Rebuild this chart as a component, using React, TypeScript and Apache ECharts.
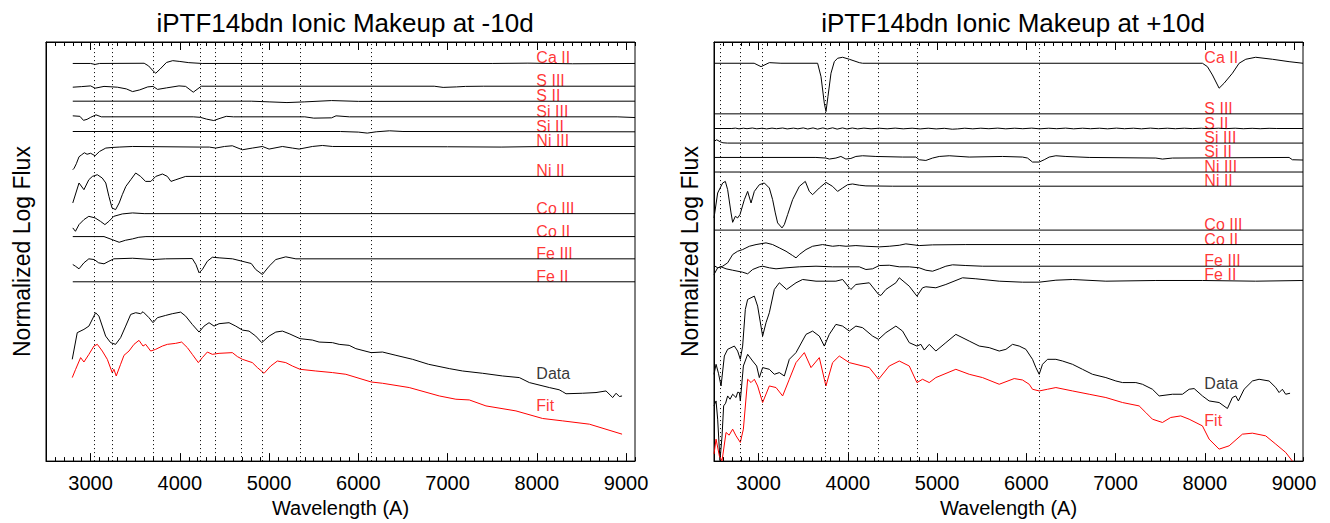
import React, { useEffect, useRef } from 'react';
import * as echarts from 'echarts';

// ---------- axis ticks ----------
const MAJOR_TICKS = [3000, 4000, 5000, 6000, 7000, 8000, 9000];
const MINOR_TICKS: number[] = [];
for (let w = 2600; w <= 9100; w += 100) if (w % 1000 !== 0) MINOR_TICKS.push(w);

// ---------- dotted line wavelengths ----------
const L_VLINES = [3045, 3242, 3699, 4234, 4394, 4689, 4918, 5347, 6143];
const R_VLINES = [2571, 2792, 3041, 3750, 4001, 4344, 4774, 6141];

// ---------- label positions (name, offset flux) ----------
const L_LABELS: [string, number][] = [
  ['Ca II', 398.5], ['S III', 375.7], ['S II', 360.7], ['Si III', 345], ['Si II', 330.3],
  ['Ni III', 315.3], ['Ni II', 285.3], ['Co III', 248], ['Co II', 225], ['Fe III', 202.7], ['Fe II', 179.7],
];
const L_DATA_LABEL = 82;
const L_FIT_LABEL = 50.3;
const R_LABELS: [string, number][] = [
  ['Ca II', 398.7], ['S III', 348], ['S II', 333.3], ['Si III', 318.7], ['Si II', 304.3],
  ['Ni III', 289.7], ['Ni II', 275.5], ['Co III', 231.5], ['Co II', 217], ['Fe III', 195.3], ['Fe II', 181.3],
];
const R_DATA_LABEL = 72;
const R_FIT_LABEL = 35.3;
const LABEL_WAVE = 8000;

// ---------- LEFT panel (-10d) ----------
const L_CA2 = [[2800,398.5],[3000,398.5],[3050,397.5],[3100,398.5],[3600,398.7],[3650,396],[3700,391],[3730,388.7],[3780,393],[3850,399.5],[3920,401.3],[4000,400.5],[4100,399.3],[4250,398.5],[7500,398.5],[7900,398.8],[8400,398.2],[9100,398.5]];
const L_S3 = [[2800,374.7],[2900,375.3],[3000,376],[3050,373.7],[3150,375.5],[3300,374.7],[3400,373],[3470,370.3],[3550,372],[3640,375],[3700,375.5],[3750,372.5],[3850,374],[3990,376],[4065,375.5],[4150,369.7],[4240,375.7],[6850,375.7],[6950,374.5],[7100,375],[7200,375.5],[7400,375.7],[9100,375.7]];
const L_S2 = [[2800,360.7],[4800,360.7],[5000,360],[5200,359.3],[5400,360],[5700,361.3],[6000,360.5],[9100,360.7]];
const L_SI3 = [[2800,346],[2880,345.5],[2920,341.5],[2960,342.5],[3000,344.5],[3060,347],[3120,345],[4150,345],[4230,344.5],[4300,342.7],[4380,341.3],[4450,343.5],[4520,345.5],[4600,345],[5400,345],[5500,343.7],[5700,344],[5750,346],[5900,345],[8900,345],[9100,344.3]];
const L_SI2 = [[2800,330.3],[5800,330.3],[6000,329.7],[6100,328.7],[6200,330],[6350,331],[6500,330.3],[9100,330]];
const L_NI3 = [[2800,292],[2815,293.5],[2840,298],[2870,305],[2900,307],[2930,309],[2960,307.5],[3000,308.5],[3050,306],[3100,310.3],[3170,313.7],[3240,314.3],[3320,314.7],[3470,315.3],[4215,314.7],[4330,314.7],[4402,313.7],[4500,315.3],[4588,316],[4700,312],[4812,313.7],[4925,315.3],[5000,312.7],[5149,315.3],[5261,313.7],[5336,312.7],[5485,315.3],[5597,316.3],[5710,315.3],[7000,315],[7600,314.7],[8100,315.3],[9100,315.3]];
const L_NI2 = [[2800,258.7],[2870,278.7],[2925,272],[2980,282],[3020,285.3],[3075,287],[3130,283.7],[3170,278.7],[3205,265.3],[3240,253.7],[3280,252],[3320,258.7],[3355,267],[3395,275.3],[3450,282],[3505,288.7],[3560,285.3],[3615,280.3],[3675,280.3],[3730,285.3],[3805,287.7],[3860,285.3],[3900,280.3],[3955,282],[4065,285.3],[9100,285.3]];
const L_CO3 = [[2800,233.7],[2830,230.3],[2870,237],[2925,242],[2980,245.3],[3050,243.7],[3110,240.3],[3160,237],[3205,240.3],[3260,245.3],[3355,247.7],[3470,248.7],[3600,248],[9100,248]];
const L_CO2 = [[2800,225],[3150,225],[3240,222],[3320,219.3],[3390,221.3],[3470,222.7],[3540,224.3],[3620,225],[9100,225]];
const L_FE3 = [[2800,197],[2830,195.3],[2870,192.7],[2925,198.7],[2980,202.7],[3040,202],[3090,198.7],[3150,197.7],[3205,200.3],[3260,202.7],[3470,203.3],[3700,202],[3840,202.7],[4139,203],[4180,197],[4215,188.7],[4252,192],[4308,200.3],[4364,204.3],[4440,203.7],[4590,202.7],[4800,198],[4850,192],[4925,187],[5000,195.3],[5075,202],[5187,204.7],[5300,202.7],[9100,202.7]];
const L_FE2 = [[2800,179.7],[9100,179.7]];
const L_DATA = [[2794,102],[2850,128.7],[2925,132],[2981,135.3],[3056,148.7],[3093,145.3],[3168,125.3],[3224,118.7],[3280,117],[3336,123.7],[3393,135.3],[3449,147],[3505,148.7],[3561,147.7],[3587,149.7],[3654,143.7],[3699,138.7],[3748,143.7],[3841,146],[3915,147.7],[4009,149.3],[4065,145.3],[4139,137],[4215,129.3],[4271,135.3],[4327,138.7],[4383,135.3],[4439,137.7],[4551,138.7],[4626,135.3],[4701,131.3],[4775,130.3],[4850,125.3],[4918,118.7],[5000,125.3],[5075,129.3],[5149,130.3],[5224,127.7],[5347,122.7],[5485,121.3],[5560,119.3],[5710,118.7],[5785,117],[5897,116],[5972,112.7],[6144,108.7],[6271,109.3],[6421,106],[6608,102],[6787,97],[7019,92.7],[7168,90.3],[7393,88],[7617,85.3],[7804,83.7],[7916,78.7],[8140,73.7],[8250,71.5],[8290,69.5],[8327,67.5],[8514,68],[8663,68.7],[8775,70.3],[8850,63.7],[8888,68],[8925,64.7],[8955,65.3]];
const L_FIT = [[2794,83.7],[2832,92],[2888,103.7],[2925,99.3],[2981,107],[3037,115.3],[3075,117],[3131,110.3],[3187,102],[3242,88.7],[3261,92],[3287,85.3],[3336,97],[3374,106],[3430,110.3],[3486,117],[3542,121],[3587,115.3],[3617,117],[3673,110.3],[3729,112],[3804,115.3],[3860,117],[3953,118],[4020,119.3],[4084,113.7],[4139,107],[4207,98.7],[4252,103.7],[4308,109.3],[4364,107],[4439,108],[4588,108.7],[4645,104.7],[4701,102],[4812,98.7],[4869,93.7],[4944,88],[5018,95.3],[5093,100.3],[5187,98.7],[5261,95.3],[5347,92],[5523,90.3],[5710,88.7],[5860,87],[6144,79.3],[6271,78],[6570,73.7],[6907,65.3],[7093,62],[7243,61.3],[7430,55.3],[7766,50.3],[8065,42.7],[8290,40.3],[8589,37],[8955,27]];

// ---------- RIGHT panel (+10d) ----------
const R_CA2 = [[2500,398.7],[2950,398.7],[3027,395.3],[3120,399.3],[3250,398.7],[3661,398.7],[3699,385.3],[3736,358.7],[3755,350.3],[3777,365.3],[3811,388.7],[3848,400.3],[3885,403.7],[3941,404.7],[4016,402.7],[4128,399.3],[4165,398.7],[7973,398.7],[8029,395.3],[8085,387],[8160,373.7],[8216,378.7],[8309,388.7],[8384,398.7],[8459,402.7],[8570,404.7],[8757,402.7],[8944,400.3],[9100,398.7]];
const R_S3 = [[2500,348],[9100,348]];
const R_S2 = [[2500,333.3],[2700,333.3],[2740,333.7],[2780,333.0],[2830,333.6],[2870,333.1],[2930,333.8],[2980,333.0],[3040,333.6],[3090,332.9],[3150,333.7],[3200,333.1],[3270,333.8],[3320,332.9],[3390,333.7],[3440,333.0],[3500,333.9],[3550,332.8],[3610,333.9],[3660,332.7],[3720,333.9],[3770,332.8],[3830,334.0],[3880,332.7],[3940,333.9],[3990,332.8],[4050,333.8],[4110,332.9],[4180,333.7],[4260,333.0],[4350,333.6],[4440,333.0],[4530,333.7],[4620,333.0],[4720,333.6],[4810,332.9],[4900,333.6],[4990,332.9],[5080,333.5],[5170,332.6],[5230,332.9],[5310,333.6],[5400,333.0],[5490,333.6],[5580,333.1],[5680,333.7],[5770,333.0],[5870,333.6],[5960,333.1],[6060,333.7],[6150,333.0],[6250,333.6],[6340,333.1],[6440,333.7],[6530,333.0],[6630,333.6],[6720,333.1],[6820,333.6],[6910,333.0],[7010,333.7],[7100,333.1],[7200,333.6],[7290,333.0],[7390,333.7],[7480,333.1],[7580,333.6],[7670,333.1],[7770,333.6],[7860,333.2],[7960,333.6],[8050,333.1],[8150,333.6],[8240,333.2],[8340,333.6],[8430,333.1],[8530,333.5],[8620,333.1],[8720,333.5],[8800,333.3],[9100,333.3]];
const R_SI3 = [[2500,320.3],[2530,322],[2570,320],[2600,319],[2650,318.7],[9100,318.7]];
const R_SI2 = [[2500,304.3],[3642,304.3],[3754,303.7],[3792,302.7],[3866,303.7],[3922,305.3],[3978,302.7],[4034,303.3],[4090,305.3],[4165,306],[4314,305.3],[4613,304.7],[4762,304.7],[4800,302],[4874,301.3],[4949,303.7],[5024,305.3],[5136,306],[5360,304.7],[5733,305.3],[5957,304.7],[6013,303.7],[6069,299.7],[6144,299.7],[6200,302],[6256,304.7],[6331,306],[6443,305.3],[6704,304.3],[7451,303.7],[7525,302.7],[7637,303.7],[8944,304.3],[8981,302],[9100,301.7]];
const R_NI3 = [[2500,289.7],[9100,289.7]];
const R_NI2 = [[2500,243.7],[2541,268.7],[2597,278.7],[2627,280.3],[2653,272],[2691,248.7],[2709,239.3],[2739,245.3],[2765,243.7],[2791,247],[2840,262],[2877,270.3],[2915,258.7],[2952,270.3],[3008,277],[3064,278.7],[3120,273.7],[3157,262],[3187,248.7],[3213,238.7],[3262,233.7],[3288,237],[3325,247],[3381,262],[3456,275.3],[3523,280.3],[3568,270.3],[3605,267],[3680,273.7],[3755,279.3],[3829,275.3],[3885,270.3],[3941,273.7],[3997,277],[4053,277.7],[4128,276.5],[4202,275.8],[4500,275.5],[9100,275.5]];
const R_CO3 = [[2500,231.5],[9100,231.5]];
const R_CO2 = [[2500,187],[2541,193.7],[2597,195.3],[2653,198.7],[2709,207],[2765,210.3],[2821,212],[2896,215.3],[2971,217],[3083,218.7],[3157,217],[3232,213.7],[3307,210.3],[3381,206],[3419,203.7],[3456,207],[3531,212],[3605,215.3],[3717,217],[3829,215.3],[3904,216],[3979,215.3],[4090,216],[4202,215.3],[4352,214.7],[4464,215.3],[4576,216.3],[4650,217.7],[4800,216],[4949,216.7],[5322,217],[9100,217]];
const R_FE3 = [[2500,196],[2541,193.7],[2579,194.7],[2635,192.7],[2709,191.3],[2821,189.3],[2877,187.7],[2933,192],[3008,194.7],[3045,195.3],[3120,193.7],[3195,192.7],[3307,193.7],[3456,194.7],[3643,195.3],[3829,194.7],[3979,194.7],[4128,194.7],[4202,192],[4277,192.7],[4352,196],[4464,196.3],[4576,194.7],[4688,194.7],[4800,193.7],[4874,191.3],[4949,190.3],[5024,192.7],[5098,195.3],[5173,196.7],[5322,196],[5509,195.3],[9100,195.3]];
const R_FE2 = [[2500,87],[2523,97],[2550,88],[2579,75.3],[2616,105.3],[2653,112],[2728,115.3],[2765,110.3],[2795,102],[2821,115.3],[2851,152],[2877,162],[2915,163.7],[2952,165.3],[2989,155.3],[3045,125.3],[3083,138.7],[3120,148.7],[3176,172],[3232,178.7],[3314,172],[3419,178.7],[3493,182],[3643,180.3],[3866,180.3],[3941,182],[4016,173.7],[4034,172],[4090,177],[4240,178.7],[4344,167],[4370,166],[4426,172],[4538,178.7],[4576,183.7],[4688,175.3],[4774,165.3],[4837,173.7],[4874,174.7],[4986,173.7],[5098,177],[5285,183.7],[5434,182.7],[5696,180.3],[5957,179.3],[6144,179.3],[6331,181.3],[6517,182],[6891,180.3],[7451,181],[7973,181],[8570,180.3],[9100,181]];
const R_DATA = [[2500,55.3],[2523,60.3],[2541,42],[2567,0.5],[2590,25],[2608,55.3],[2630,58],[2653,65.3],[2680,62],[2709,67],[2747,63.7],[2765,69],[2784,68.7],[2795,60.3],[2829,95.3],[2877,107],[2933,100.3],[2978,95.3],[3008,83.7],[3045,93.7],[3120,92],[3176,87],[3232,88.7],[3288,85.3],[3344,102],[3419,108.7],[3531,127],[3605,130.3],[3680,125.3],[3736,115.3],[3792,127],[3866,137],[3941,135.3],[4016,130.3],[4090,135.3],[4165,133.7],[4277,125.3],[4344,122],[4426,128.7],[4538,135.3],[4613,130.3],[4688,118.7],[4774,115.3],[4818,117],[4856,111.3],[4912,117],[4986,110.3],[5098,118.7],[5210,127],[5360,120.3],[5472,115.3],[5584,113.7],[5696,110.3],[5771,112],[5845,117],[5920,115.3],[5995,112],[6069,102],[6107,93.7],[6144,87],[6181,97],[6237,102],[6331,102],[6405,100.3],[6517,97],[6629,92],[6741,87],[6891,83.7],[7003,80.3],[7077,78.7],[7227,78.7],[7301,77],[7413,72],[7488,65.3],[7637,67],[7749,67],[7824,72],[7880,72.7],[7973,65.3],[8048,60.3],[8160,58.7],[8253,52.7],[8309,63.7],[8346,65.3],[8376,60.3],[8440,72],[8533,80.3],[8608,82],[8720,80.3],[8795,73.7],[8832,68.7],[8869,72],[8906,67],[8955,68]];
const R_FIT = [[2500,7],[2523,22],[2560,5.3],[2590,0.3],[2635,28.7],[2670,26],[2709,32],[2747,25.3],[2795,18.7],[2829,32],[2877,82],[2915,78.7],[2952,82],[2989,75.3],[3045,58.7],[3120,75.3],[3195,73.7],[3269,65.3],[3344,82],[3419,98.7],[3512,108.7],[3587,93.7],[3680,103.7],[3754,75.3],[3829,98.7],[3904,105.3],[4016,98.7],[4240,93.7],[4344,82],[4464,95.3],[4576,100.3],[4688,95.3],[4774,78.7],[4837,82],[4912,78.7],[4986,83.7],[5210,92],[5360,87],[5509,83.7],[5696,77],[5864,82.7],[5957,81.3],[6032,77],[6069,72],[6144,70.3],[6237,72],[6331,73.7],[6517,70.3],[6704,67],[6891,63.7],[7077,58.7],[7264,55.3],[7338,48.7],[7413,42],[7525,38.7],[7618,43.7],[7730,45.3],[7824,42],[7973,35.3],[8048,22],[8160,12],[8272,15.3],[8421,27],[8533,28],[8682,25.3],[8795,17],[8906,8.7],[8981,0]];

const L_COMPONENTS = [L_CA2, L_S3, L_S2, L_SI3, L_SI2, L_NI3, L_NI2, L_CO3, L_CO2, L_FE3, L_FE2];
const R_COMPONENTS = [R_CA2, R_S3, R_S2, R_SI3, R_SI2, R_NI3, R_NI2, R_CO3, R_CO2, R_FE3, R_FE2];

const TITLES = ['iPTF14bdn Ionic Makeup at -10d', 'iPTF14bdn Ionic Makeup at +10d'];
const FONT = "'Liberation Sans', Arial, sans-serif";
const RED = '#ff0000';

function buildOption() {
  const grids = [
    { left: 46, top: 42, width: 589, height: 420 },
    { left: 714, top: 42, width: 589, height: 420 },
  ].map((g) => ({ ...g, show: true, borderColor: '#000', borderWidth: 1, backgroundColor: 'transparent' }));

  const xAxis: any[] = [];
  const yAxis: any[] = [];
  const series: any[] = [];
  const panels = [
    { comps: L_COMPONENTS, data: L_DATA, fit: L_FIT, vlines: L_VLINES, labels: L_LABELS, dl: L_DATA_LABEL, fl: L_FIT_LABEL },
    { comps: R_COMPONENTS, data: R_DATA, fit: R_FIT, vlines: R_VLINES, labels: R_LABELS, dl: R_DATA_LABEL, fl: R_FIT_LABEL },
  ];

  panels.forEach((p, i) => {
    const base = { gridIndex: i, type: 'value', min: 2500, max: 9100, splitLine: { show: false } };
    xAxis.push({
      ...base, position: 'bottom',
      axisLine: { show: true, onZero: false, lineStyle: { color: '#000', width: 1 } },
      axisTick: { show: true, inside: true, length: 8, customValues: MAJOR_TICKS, lineStyle: { color: '#000' } },
      axisLabel: { show: true, customValues: MAJOR_TICKS, color: '#000', fontSize: 20, fontFamily: FONT, margin: 12, formatter: (v: number) => String(v) },
      name: 'Wavelength (A)', nameLocation: 'middle', nameGap: 36,
      nameTextStyle: { color: '#000', fontSize: 20, fontFamily: FONT },
    });
    xAxis.push({
      ...base, position: 'bottom',
      axisLine: { show: false },
      axisTick: { show: true, inside: true, length: 4, customValues: MINOR_TICKS, lineStyle: { color: '#000' } },
      axisLabel: { show: false },
    });
    xAxis.push({
      ...base, position: 'top',
      axisLine: { show: true, onZero: false, lineStyle: { color: '#000' } },
      axisTick: { show: true, inside: true, length: 8, customValues: MAJOR_TICKS, lineStyle: { color: '#000' } },
      axisLabel: { show: false },
    });
    xAxis.push({
      ...base, position: 'top',
      axisLine: { show: false },
      axisTick: { show: true, inside: true, length: 4, customValues: MINOR_TICKS, lineStyle: { color: '#000' } },
      axisLabel: { show: false },
    });
    yAxis.push({
      gridIndex: i, type: 'value', min: 0, max: 420,
      axisLine: { show: true, onZero: false, lineStyle: { color: '#000' } },
      axisTick: { show: false }, axisLabel: { show: false }, splitLine: { show: false },
      name: 'Normalized Log Flux', nameLocation: 'middle', nameGap: 13, nameRotate: 90,
      nameTextStyle: { color: '#000', fontSize: 23, fontFamily: FONT },
    });

    const xi = i * 4;
    const mkLine = (data: number[][], color: string, extra: any = {}) => ({
      type: 'line', xAxisIndex: xi, yAxisIndex: i, data, showSymbol: false, symbol: 'none',
      silent: true, lineStyle: { color, width: 1 }, emphasis: { disabled: true }, ...extra,
    });
    p.comps.forEach((c, k) => {
      const extra = k === 0 ? {
        markLine: {
          silent: true, symbol: ['none', 'none'], label: { show: false },
          lineStyle: { type: [1, 3], color: '#000', width: 1 },
          data: p.vlines.map((w) => ({ xAxis: w })),
        },
      } : {};
      series.push(mkLine(c, '#000', extra));
    });
    series.push(mkLine(p.data, '#000'));
    series.push(mkLine(p.fit, RED));

    const labelData: any[] = p.labels.map(([n, v]) => ({ name: n, value: [LABEL_WAVE, v], label: { color: RED } }));
    labelData.push({ name: 'Data', value: [LABEL_WAVE, p.dl], label: { color: '#000' } });
    labelData.push({ name: 'Fit', value: [LABEL_WAVE, p.fl], label: { color: RED } });
    series.push({
      type: 'scatter', xAxisIndex: xi, yAxisIndex: i, symbolSize: 1, silent: true,
      itemStyle: { color: 'rgba(0,0,0,0)' }, emphasis: { disabled: true },
      data: labelData,
      label: {
        show: true, formatter: '{b}', position: [0, 3], align: 'left', verticalAlign: 'bottom',
        fontSize: 16, fontFamily: FONT,
      },
    });
  });

  return {
    animation: false,
    backgroundColor: '#fff',
    title: TITLES.map((t, i) => ({
      text: t, left: i === 0 ? 340 : 1008, top: 5, textAlign: 'center',
      textStyle: { fontSize: 26, fontWeight: 'normal', color: '#000', fontFamily: FONT },
    })),
    grid: grids,
    xAxis, yAxis, series,
  };
}

export default function App() {
  const ref = useRef<HTMLDivElement>(null);
  useEffect(() => {
    if (!ref.current) return;
    const chart = echarts.init(ref.current, undefined, { renderer: 'svg' });
    chart.setOption(buildOption() as any);
    return () => chart.dispose();
  }, []);
  return <div ref={ref} style={{ position: 'absolute', left: 0, top: 0, width: 1330, height: 523 }} />;
}
